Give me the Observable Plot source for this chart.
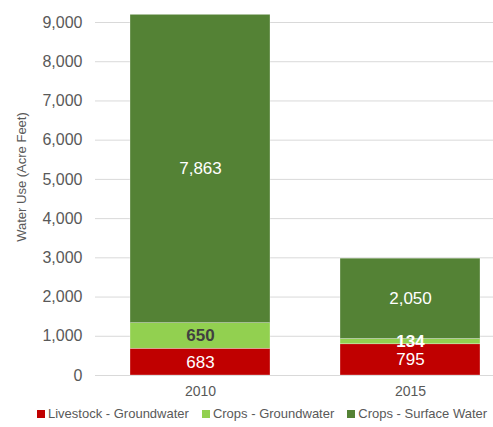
<!DOCTYPE html>
<html>
<head>
<meta charset="utf-8">
<script src="https://cdn.jsdelivr.net/npm/d3@7"></script>
<script src="https://cdn.jsdelivr.net/npm/@observablehq/plot@0.6"></script>
<style>
  body { margin: 0; background: #fff; font-family: "Liberation Sans", Arial, sans-serif; }
  #chart { width: 493px; height: 427px; position: relative; overflow: hidden; }
  .legend { position: absolute; left: 37px; top: 406px; display: flex; font-size: 13px; color: #595959; white-space: nowrap; }
  .legend .item { display: flex; align-items: center; margin-right: 13px; }
  .legend .sw { width: 8px; height: 8px; margin-right: 3px; display: inline-block; }
</style>
</head>
<body>
<div id="chart"></div>
<script>
const years = ["2010", "2015"];
const seriesNames = ["Livestock - Groundwater", "Crops - Groundwater", "Crops - Surface Water"];
const livestockGW = [683, 795];
const cropsGW = [650, 134];
const cropsSW = [7863, 2050];
const yTicks = [0, 1000, 2000, 3000, 4000, 5000, 6000, 7000, 8000, 9000];
const colors = ["#C00000", "#92D050", "#548235"];

const valuesBySeries = [livestockGW, cropsGW, cropsSW];
const data = [];
seriesNames.forEach((s, si) => {
  years.forEach((yr, yi) => {
    data.push({ year: yr, series: s, value: valuesBySeries[si][yi] });
  });
});

const fmt = d3.format(",");
const labelFill = d => (d.series === "Crops - Groundwater" && d.year === "2010") ? "#404040" : "white";

const plot = Plot.plot({
  width: 493,
  height: 400,
  marginLeft: 95,
  marginRight: 0,
  marginTop: 22,
  marginBottom: 25,
  style: { fontFamily: "'Liberation Sans', Arial, sans-serif", background: "white" },
  x: { domain: years, range: [95, 515], paddingInner: 1/3, paddingOuter: 1/6, axis: null },
  y: { domain: [0, 9000], axis: null },
  color: { domain: seriesNames, range: colors },
  marks: [
    Plot.ruleY(yTicks, { stroke: "#d9d9d9", strokeWidth: 1 }),
    Plot.barY(data, Plot.stackY({ x: "year", y: "value", z: "series", fill: "series", order: seriesNames, stroke: "white", strokeWidth: 0.5, strokeOpacity: 0.6 })),
    Plot.axisY({ ticks: yTicks, tickSize: 0, tickPadding: 13, tickFormat: d => fmt(d), fontSize: 16, fill: "#595959", label: null }),
    Plot.axisX({ tickSize: 0, tickPadding: 11, fontSize: 14, fill: "#595959", label: null }),
    ...seriesNames.map(s =>
      Plot.text(data, Plot.filter(d => d.series === s, Plot.stackY({
        x: "year", y: "value", z: "series", order: seriesNames,
        text: d => fmt(d.value),
        fill: labelFill,
        fontWeight: s === "Crops - Groundwater" ? "bold" : "normal",
        fontSize: 17
      })))
    ),
    Plot.text(["Water Use (Acre Feet)"], { frameAnchor: "left", textAnchor: "middle", rotate: -90, dx: -74, dy: -22, fontSize: 13, fill: "#595959" })
  ]
});

const chart = document.getElementById("chart");
chart.appendChild(plot);

const legend = document.createElement("div");
legend.className = "legend";
seriesNames.forEach((s, i) => {
  const it = document.createElement("div");
  it.className = "item";
  const sw = document.createElement("span");
  sw.className = "sw";
  sw.style.background = colors[i];
  const tx = document.createElement("span");
  tx.textContent = s;
  it.appendChild(sw);
  it.appendChild(tx);
  legend.appendChild(it);
});
chart.appendChild(legend);
</script>
</body>
</html>
